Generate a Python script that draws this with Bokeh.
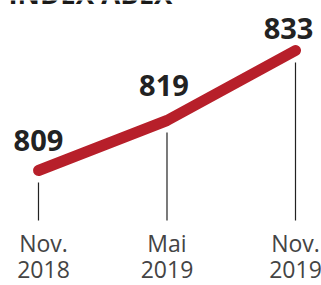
from bokeh.plotting import figure
from bokeh.models import Range1d, ColumnDataSource
from bokeh.core.properties import value
from bokeh.embed import file_html
from bokeh.resources import INLINE

# data
title = "INDEX ABEX"
months = [0, 6, 12]  # months since Nov. 2018
labels_top = ["Nov.", "Mai", "Nov."]
labels_bottom = ["2018", "2019", "2019"]
index_values = [809, 819, 833]
value_labels = ["809", "819", "833"]

RED = "#B71F2A"
FONT = "Open Sans"

p = figure(width=321, height=285, output_backend="svg", toolbar_location=None,
           x_range=Range1d(-1.774, 13.214), y_range=Range1d(786, 843),
           min_border=0, min_border_left=0, min_border_right=0,
           min_border_top=0, min_border_bottom=0)
p.axis.visible = False
p.grid.visible = False
p.outline_line_color = None
p.background_fill_color = "white"
p.border_fill_color = "white"

base = min(index_values) - 10  # baseline level for ticks
src = ColumnDataSource(dict(
    x=months, y=index_values, lab=value_labels,
    top=labels_top, bot=labels_bottom,
    y0=[v - 2.4 for v in index_values], y1=[base] * 3,
    yb=[base] * 3,
    xo=[0, -3, -7], yo=[-30, -35, -22],
    cxo=[5, 0, 0],
))

# tick lines
p.segment(x0="x", y0="y0", x1="x", y1="y1", source=src, line_color="#222222", line_width=1.2)

# main line
p.line(x="x", y="y", source=src, line_color=RED, line_width=11, line_cap="round", line_join="round")

# value labels
p.text(x="x", y="y", text="lab", source=src, x_offset="xo", y_offset="yo",
       text_font=value(FONT), text_font_style="bold", text_font_size="29px",
       text_color="#222222", text_align="center", text_baseline="alphabetic")

# category labels
p.text(x="x", y="yb", text="top", source=src, x_offset="cxo", y_offset=22,
       text_font=value(FONT), text_font_size="23px", text_color="#444444",
       text_align="center", text_baseline="alphabetic")
p.text(x="x", y="yb", text="bot", source=src, x_offset="cxo", y_offset=49,
       text_font=value(FONT), text_font_size="23px", text_color="#444444",
       text_align="center", text_baseline="alphabetic")

# title (cut off at top)
p.text(x=[p.x_range.start], y=[p.y_range.end], text=[title], x_offset=8, y_offset=-7,
       text_font=value(FONT), text_font_style="bold", text_font_size="27.5px",
       text_color="#1a1a1a", text_align="left", text_baseline="alphabetic")

open("out.html", "w").write(file_html(p, INLINE))
